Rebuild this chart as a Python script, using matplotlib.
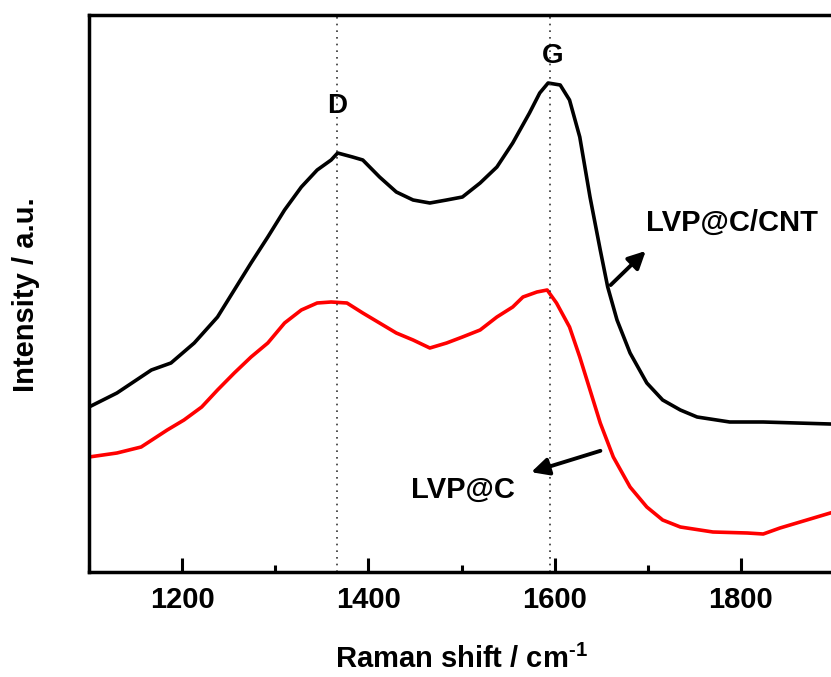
import matplotlib
matplotlib.use("Agg")
import matplotlib.pyplot as plt
from matplotlib.ticker import MultipleLocator

plt.rcParams['font.family'] = ['Liberation Sans', 'DejaVu Sans']
plt.rcParams['font.weight'] = 'bold'
plt.rcParams['mathtext.fontset'] = 'custom'
plt.rcParams['mathtext.rm'] = 'Liberation Sans:bold'
plt.rcParams['mathtext.bf'] = 'Liberation Sans:bold'
plt.rcParams['mathtext.it'] = 'Liberation Sans:bold'
plt.rcParams['axes.unicode_minus'] = False

# ---- data ----
cnt_shift = [1100, 1130, 1167, 1188, 1213, 1238, 1256, 1274, 1292, 1310, 1328, 1345,
             1360, 1367, 1383, 1394, 1412, 1430, 1448, 1466, 1484, 1501, 1520, 1538,
             1555, 1573, 1584, 1593, 1606, 1616, 1627, 1638, 1649, 1657, 1667, 1681,
             1699, 1716, 1735, 1753, 1788, 1824, 1860, 1896]
cnt_int = [165, 179, 202, 209, 229, 255, 282, 309, 335, 362, 385, 402,
           412, 419, 415, 412, 395, 380, 372, 369, 372, 375, 389, 405,
           429, 459, 479, 489, 487, 472, 435, 375, 322, 285, 252, 219,
           189, 172, 162, 155, 150, 150, 149, 148]

c_shift = [1100, 1130, 1156, 1184, 1202, 1221, 1238, 1256, 1274, 1292, 1310, 1328,
           1345, 1360, 1377, 1394, 1412, 1430, 1448, 1466, 1484, 1501, 1520, 1538,
           1555, 1566, 1581, 1592, 1602, 1616, 1627, 1638, 1649, 1663, 1681, 1699,
           1716, 1735, 1770, 1807, 1824, 1842, 1860, 1878, 1896]
c_int = [115, 119, 125, 142, 152, 165, 182, 199, 215, 229, 249, 262,
         269, 270, 269, 259, 249, 239, 232, 224, 229, 235, 242, 255,
         265, 275, 280, 282, 269, 245, 215, 182, 149, 115, 85, 65,
         52, 45, 40, 39, 38, 44, 49, 54, 59]

peak_pos = [1366, 1595]
peak_names = ['D', 'G']
series_names = ['LVP@C/CNT', 'LVP@C']

# ---- figure ----
fig = plt.figure(figsize=(8.31, 6.77), dpi=100)
ax = fig.add_axes([89 / 831, 105 / 677, 745 / 831, 557 / 677])

ax.plot(cnt_shift, cnt_int, color='black', lw=2.6)
ax.plot(c_shift, c_int, color='#ff0000', lw=2.6)

for p in peak_pos:
    ax.axvline(p, color='#333333', ls=(0, (1, 3)), lw=1.2)

ax.set_xlim(1100, 1900)
ax.set_ylim(0, 557)

ax.text(peak_pos[0], 466, peak_names[0], ha='center', va='center', fontsize=20, fontweight='bold')
ax.text(peak_pos[1] + 3, 516, peak_names[1], ha='center', va='center', fontsize=20, fontweight='bold')

ax.annotate('', xy=(1700, 323), xytext=(1658, 285),
            arrowprops=dict(arrowstyle='-|>', color='black', lw=2.8, mutation_scale=26))
ax.text(1791, 349, series_names[0], ha='center', va='center', fontsize=21, fontweight='bold')

ax.annotate('', xy=(1572, 99), xytext=(1652, 122),
            arrowprops=dict(arrowstyle='-|>', color='black', lw=2.8, mutation_scale=26))
ax.text(1502, 82, series_names[1], ha='center', va='center', fontsize=21, fontweight='bold')

ax.xaxis.set_major_locator(MultipleLocator(200))
ax.xaxis.set_minor_locator(MultipleLocator(100))
ax.set_yticks([])
ax.tick_params(axis='x', which='major', direction='in', length=10, width=2.2, pad=10,
               labelsize=21)
ax.tick_params(axis='x', which='minor', direction='in', length=5, width=2.2)
for lab in ax.get_xticklabels():
    lab.set_fontweight('bold')

for s in ax.spines.values():
    s.set_linewidth(2.5)

ax.set_xlabel(r'Raman shift / cm$^{\text{-1}}$', fontsize=21, fontweight='bold', labelpad=22)
ax.set_ylabel('Intensity / a.u.', fontsize=21, fontweight='bold')
ax.yaxis.set_label_coords(40 / 831, 1 - 295 / 677, transform=fig.transFigure)

fig.savefig('out.png', dpi=100)
